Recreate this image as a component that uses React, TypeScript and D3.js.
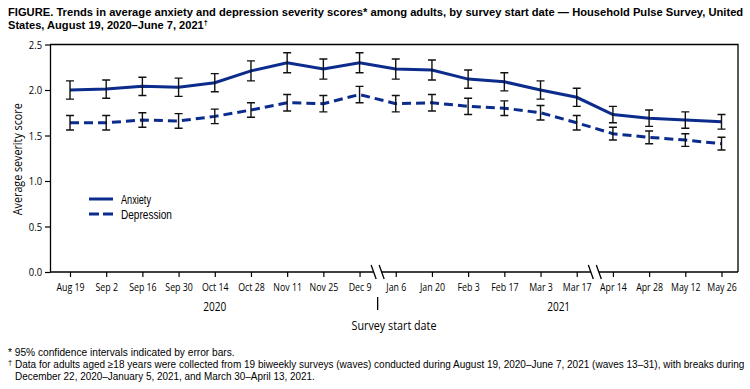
import React, { useRef, useEffect } from 'react';
import * as d3 from 'd3';

// Survey start dates (tick labels)
const dates = [
  'Aug 19', 'Sep 2', 'Sep 16', 'Sep 30', 'Oct 14', 'Oct 28', 'Nov 11', 'Nov 25', 'Dec 9',
  'Jan 6', 'Jan 20', 'Feb 3', 'Feb 17', 'Mar 3', 'Mar 17',
  'Apr 14', 'Apr 28', 'May 12', 'May 26',
];

// Average severity scores
const anxiety = [
  2.00, 2.01, 2.04, 2.03, 2.08, 2.21, 2.30, 2.23, 2.30,
  2.23, 2.22, 2.12, 2.09, 2.00, 1.92,
  1.73, 1.69, 1.67, 1.65,
];
const depression = [
  1.64, 1.64, 1.67, 1.66, 1.71, 1.78, 1.86, 1.85, 1.95,
  1.85, 1.86, 1.82, 1.80, 1.75, 1.64,
  1.52, 1.48, 1.45, 1.41,
];

// 95% CI half-widths
const anxietyErr = [
  0.10, 0.10, 0.10, 0.10, 0.10, 0.11, 0.11, 0.11, 0.11,
  0.11, 0.11, 0.10, 0.10, 0.10, 0.10,
  0.09, 0.09, 0.09, 0.08,
];
const depressionErr = [
  0.08, 0.08, 0.08, 0.08, 0.08, 0.08, 0.09, 0.09, 0.09,
  0.09, 0.09, 0.09, 0.08, 0.08, 0.08,
  0.07, 0.07, 0.07, 0.07,
];

// Breaks in the x axis come after these dates
const breaksAfter = ['Dec 9', 'Mar 17'];
const yearLabels = [
  { year: '2020', from: 'Aug 19', to: 'Dec 9' },
  { year: '2021', from: 'Jan 6', to: 'May 26' },
];
const yTicks = [0, 0.5, 1.0, 1.5, 2.0, 2.5];

const titleLine1 = 'FIGURE. Trends in average anxiety and depression severity scores* among adults, by survey start date \u2014 Household Pulse Survey, United';
const titleLine2 = 'States, August 19, 2020\u2013June 7, 2021';
const footnote1 = '* 95% confidence intervals indicated by error bars.';
const footnote2 = 'Data for adults aged \u226518 years were collected from 19 biweekly surveys (waves) conducted during August 19, 2020\u2013June 7, 2021 (waves 13\u201331), with breaks during';
const footnote3 = 'December 22, 2020\u2013January 5, 2021, and March 30\u2013April 13, 2021.';

const LINE_COLOR = '#0b2c8c';
const FONT = '"Open Sans", sans-serif';
// tighter line box for the stacked lines (title, legend, footnotes)
const NOTE_FONT = '"Liberation Sans", Arial, sans-serif';
const CONDENSE = 0.8;

// squeeze a text horizontally so it spans `width` px (the reference uses a condensed face)
const fit = (sel: any, width: number, extra = '') => {
  const w = sel.node().getComputedTextLength();
  const x = +sel.attr('x') || 0;
  const y = +sel.attr('y') || 0;
  sel.attr('x', null).attr('y', null)
    .attr('transform', `translate(${x},${y})${extra} scale(${width / w},1)`);
  return sel;
};

const App = () => {
  const svgRef = useRef<SVGSVGElement>(null);

  useEffect(() => {
    const svg = d3.select(svgRef.current);
    svg.selectAll('*').remove();

    const left = 50, right = 738, top = 44.5, bottom = 272;

    const x = d3.scalePoint<string>().domain(dates).range([70, 721.5]);
    const y = d3.scaleLinear().domain([0, 2.5]).range([bottom, top]);

    // Title
    const title = svg.append('g')
      .attr('font-family', NOTE_FONT)
      .attr('font-weight', 'bold')
      .attr('font-size', 11.5)
      .attr('fill', '#000');
    fit(title.append('text').attr('x', 8).attr('y', 15.5).text(titleLine1), 736);
    const t2 = title.append('text').attr('x', 8).attr('y', 28.5);
    t2.append('tspan').text(titleLine2);
    t2.append('tspan').attr('font-size', 7.5).attr('dy', -4).text('\u2020');
    fit(t2, 200);

    // Frame (top and right borders)
    svg.append('path')
      .attr('d', `M${left},${top}H${right}V${bottom}`)
      .attr('fill', 'none')
      .attr('stroke', '#000')
      .attr('stroke-width', 1.3);

    // Y axis
    const yAxis = svg.append('g')
      .attr('transform', `translate(${left},0)`)
      .call(d3.axisLeft(y).tickValues(yTicks).tickFormat(d3.format('.1f')).tickSize(5).tickSizeOuter(0));
    yAxis.select('.domain').attr('stroke-width', 1.3);
    yAxis.selectAll('.tick line').attr('stroke-width', 1.2);
    yAxis.selectAll('text')
      .attr('font-family', FONT).attr('font-size', 11.5).attr('fill', '#000')
      .attr('x', -8 / 0.82)
      .attr('transform', 'scale(0.82,1)');

    // X axis
    const xAxis = svg.append('g')
      .attr('transform', `translate(0,${bottom})`)
      .call(d3.axisBottom(x).tickSize(5).tickSizeOuter(0).tickPadding(6));
    xAxis.select('.domain').attr('d', `M${left},0H${right}`).attr('stroke-width', 1.3);
    xAxis.selectAll('.tick line').attr('stroke-width', 1.2);
    xAxis.selectAll('text')
      .attr('font-family', FONT).attr('font-size', 11).attr('fill', '#000')
      .attr('transform', `scale(${CONDENSE},1)`);

    // Axis break marks
    breaksAfter.forEach(d => {
      const i = dates.indexOf(d);
      const cx = ((x(dates[i]) as number) + (x(dates[i + 1]) as number)) / 2;
      svg.append('rect')
        .attr('x', cx - 4).attr('y', bottom - 2)
        .attr('width', 8).attr('height', 4)
        .attr('fill', '#fff');
      [-4, 4].forEach(off => {
        svg.append('line')
          .attr('x1', cx + off - 2.5).attr('y1', bottom - 7)
          .attr('x2', cx + off + 2.5).attr('y2', bottom + 7)
          .attr('stroke', '#000')
          .attr('stroke-width', 1.3);
      });
    });

    // Year separator and year labels
    const sepI = dates.indexOf(breaksAfter[0]);
    const sepX = ((x(dates[sepI]) as number) + (x(dates[sepI + 1]) as number)) / 2;
    svg.append('line')
      .attr('x1', sepX).attr('x2', sepX)
      .attr('y1', 297).attr('y2', 310)
      .attr('stroke', '#000').attr('stroke-width', 1.3);
    yearLabels.forEach(yl => {
      const t = svg.append('text')
        .attr('x', ((x(yl.from) as number) + (x(yl.to) as number)) / 2)
        .attr('y', 311)
        .attr('text-anchor', 'middle')
        .attr('font-family', FONT)
        .attr('font-size', 12)
        .text(yl.year);
      fit(t, 23);
    });

    // Axis titles
    fit(svg.append('text')
      .attr('x', 394).attr('y', 330)
      .attr('text-anchor', 'middle')
      .attr('font-family', FONT)
      .attr('font-size', 13)
      .text('Survey start date'), 85);
    fit(svg.append('text')
      .attr('x', 22).attr('y', (top + bottom) / 2 + 1)
      .attr('text-anchor', 'middle')
      .attr('font-family', FONT)
      .attr('font-size', 13)
      .text('Average severity score'), 112, ' rotate(-90)');

    // Series
    const series = [
      { name: 'Anxiety', values: anxiety, err: anxietyErr, dash: null, labelWidth: 30 },
      { name: 'Depression', values: depression, err: depressionErr, dash: '9,5', labelWidth: 51 },
    ];

    const line = d3.line<number>()
      .x((d, i) => x(dates[i]) as number)
      .y(d => y(d));

    series.forEach(s => {
      svg.append('path')
        .datum(s.values)
        .attr('fill', 'none')
        .attr('stroke', LINE_COLOR)
        .attr('stroke-width', 3)
        .attr('stroke-dasharray', s.dash)
        .attr('d', line);
    });

    // Error bars
    series.forEach(s => {
      const g = svg.append('g').attr('stroke', '#111').attr('stroke-width', 1.4).attr('fill', 'none');
      s.values.forEach((v, i) => {
        const cx = x(dates[i]) as number;
        const lo = y(v - s.err[i]);
        const hi = y(v + s.err[i]);
        g.append('path')
          .attr('d', `M${cx},${lo}V${hi}M${cx - 4},${lo}H${cx + 4}M${cx - 4},${hi}H${cx + 4}`);
      });
    });

    // Legend
    const legend = svg.append('g')
      .attr('font-family', NOTE_FONT)
      .attr('font-size', 12.5);
    series.forEach((s, i) => {
      const ly = 199 + i * 15;
      legend.append('line')
        .attr('x1', 89).attr('x2', 113)
        .attr('y1', ly).attr('y2', ly)
        .attr('stroke', LINE_COLOR)
        .attr('stroke-width', 3)
        .attr('stroke-dasharray', s.dash ? '10,4' : null);
      fit(legend.append('text')
        .attr('x', 121).attr('y', ly + 4.5)
        .text(s.name), s.labelWidth);
    });

    // Footnotes
    const notes = svg.append('g')
      .attr('font-family', NOTE_FONT)
      .attr('font-size', 10.5);
    fit(notes.append('text').attr('x', 8).attr('y', 355.5).text(footnote1), 227);
    notes.append('text')
      .attr('x', 8).attr('y', 365)
      .attr('font-size', 7.5)
      .text('\u2020');
    fit(notes.append('text').attr('x', 15).attr('y', 367.5).text(footnote2), 730);
    fit(notes.append('text').attr('x', 15).attr('y', 379.5).text(footnote3), 300);
  }, []);

  return (
    <svg
      ref={svgRef}
      width={750}
      height={389}
      style={{ position: 'absolute', left: 0, top: 0, background: '#fff' }}
    />
  );
};

export default App;
